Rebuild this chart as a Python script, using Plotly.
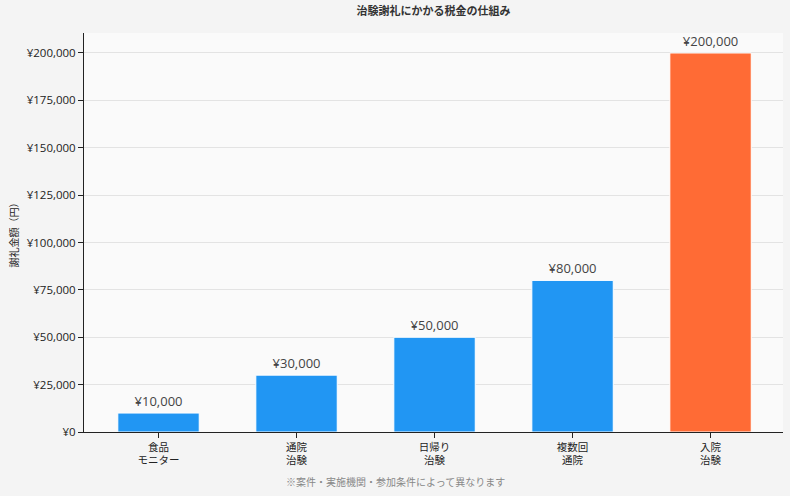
import plotly.graph_objects as go

categories = ["食品<br>モニター", "通院<br>治験", "日帰り<br>治験", "複数回<br>通院", "入院<br>治験"]
values = [10000, 30000, 50000, 80000, 200000]
colors = ["#2196F3", "#2196F3", "#2196F3", "#2196F3", "#FF6B35"]
labels = ["¥{:,}".format(v) for v in values]
tick_vals = [0, 25000, 50000, 75000, 100000, 125000, 150000, 175000, 200000]
tick_text = ["¥{:,}".format(v) for v in tick_vals]

FONT = "Open Sans, Noto Sans CJK JP"
CJK = "Noto Sans CJK JP"

fig = go.Figure(go.Bar(
    x=categories, y=values,
    marker=dict(color=colors, line=dict(color="white", width=1)),
    width=0.59,
    text=labels, textposition="outside",
    textfont=dict(size=13, color="#444444", family=FONT),
    cliponaxis=False,
))

fig.update_layout(
    width=790, height=496,
    margin=dict(l=84, r=7, t=33, b=64),
    paper_bgcolor="#f4f4f4", plot_bgcolor="#fafafa",
    font=dict(family=FONT, size=11, color="#222222"),
    title=dict(text="<b>治験謝礼にかかる税金の仕組み</b>", x=0.5, xref="paper", xanchor="center",
               y=0.985, yanchor="top", font=dict(size=11, color="#333333", family=CJK)),
    showlegend=False,
    xaxis=dict(range=[-0.54, 4.525], showline=True, linecolor="#222222", linewidth=1, ticks="outside",
               ticklen=5, tickcolor="#222222", tickfont=dict(size=10.5, color="#222222", family=CJK),
               showgrid=False),
    yaxis=dict(range=[0, 210550], tickvals=tick_vals, ticktext=tick_text,
               showline=True, linecolor="#222222", linewidth=1, ticks="outside",
               ticklen=5, tickcolor="#222222", tickfont=dict(size=11.5, color="#222222", family=FONT),
               gridcolor="#e3e3e3", gridwidth=1, zeroline=False,
               title=dict(text="謝礼金額（円）", font=dict(size=10, color="#222222", family=CJK), standoff=6)),
    annotations=[dict(text="※案件・実施機関・参加条件によって異なります", x=(395 - 84) / 699, xref="paper",
                      y=-(481 - 432) / 399, yref="paper", yanchor="middle", showarrow=False,
                      font=dict(size=10, color="#888888", family=CJK))],
)

fig.write_html("out.html")
